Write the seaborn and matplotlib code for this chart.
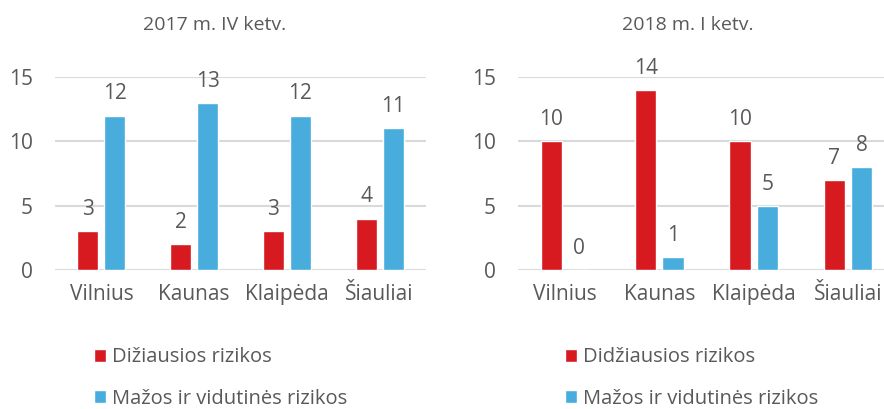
import pandas as pd
import matplotlib
matplotlib.use("Agg")
import matplotlib.pyplot as plt
import seaborn as sns

cities = ["Vilnius", "Kaunas", "Klaipėda", "Šiauliai"]
series = ["Didžiausios rizikos", "Mažos ir vidutinės rizikos"]
big_2017 = [3, 2, 3, 4]
small_2017 = [12, 13, 12, 11]
big_2018 = [10, 14, 10, 7]
small_2018 = [0, 1, 5, 8]
titles = ["2017 m. IV ketv.", "2018 m. I ketv."]
# the left legend in the original has its own spelling
legend_left = ["Dižiausios rizikos", "Mažos ir vidutinės rizikos"]
legend_right = series

red = "#D71920"
blue = "#48ACDC"
grey = "#595959"
palette = {series[0]: red, series[1]: blue}

sns.set_style("white")
plt.rcParams["font.family"] = ["Open Sans", "DejaVu Sans"]


def long_frame(big, small):
    return pd.DataFrame({
        "city": cities * 2,
        "value": big + small,
        "type": [series[0]] * 4 + [series[1]] * 4,
    })


fig = plt.figure(figsize=(8.84, 4.09), dpi=100)
ax1 = fig.add_axes([55 / 884, 1 - 270 / 409, 371 / 884, 193 / 409])
ax2 = fig.add_axes([518 / 884, 1 - 270 / 409, 377 / 884, 193 / 409])

frames = [long_frame(big_2017, small_2017), long_frame(big_2018, small_2018)]
for ax, df in zip([ax1, ax2], frames):
    sns.barplot(data=df, x="city", y="value", hue="type", hue_order=series,
                palette=palette, width=0.58, gap=0.22, saturation=1,
                ax=ax, legend=True)
    for cont in ax.containers:
        ax.bar_label(cont, padding=8, fontsize=15, color=grey)
    ax.set_ylim(0, 15)
    ax.set_yticks([0, 5, 10, 15])
    ax.set_xlabel("")
    ax.set_ylabel("")
    ax.grid(axis="y", color="#D9D9D9", linewidth=1.5)
    ax.set_axisbelow(True)
    sns.despine(ax=ax, left=True, bottom=True)
    ax.tick_params(axis="y", length=0, pad=16, labelsize=15, labelcolor=grey)
    ax.tick_params(axis="x", length=0, pad=10, labelsize=15, labelcolor=grey)
    for t in ax.texts:
        t.set_clip_on(False)

h1, _ = ax1.get_legend_handles_labels()
h2, _ = ax2.get_legend_handles_labels()
ax1.get_legend().remove()
ax2.get_legend().remove()

fig.legend(h1, legend_left, loc="center left", bbox_to_anchor=(76 / 884, 1 - 378 / 409),
           frameon=False, fontsize=14.5, labelcolor=grey, handlelength=0.6,
           handleheight=0.6, handletextpad=0.3, labelspacing=1.05)
fig.legend(h2, legend_right, loc="center left", bbox_to_anchor=(547 / 884, 1 - 378 / 409),
           frameon=False, fontsize=14.5, labelcolor=grey, handlelength=0.6,
           handleheight=0.6, handletextpad=0.3, labelspacing=1.05)

fig.text(215 / 884, 1 - 25 / 409, titles[0], ha="center", va="center", fontsize=14, color=grey)
fig.text(688 / 884, 1 - 25 / 409, titles[1], ha="center", va="center", fontsize=14, color=grey)

fig.savefig("out.png", dpi=100)
